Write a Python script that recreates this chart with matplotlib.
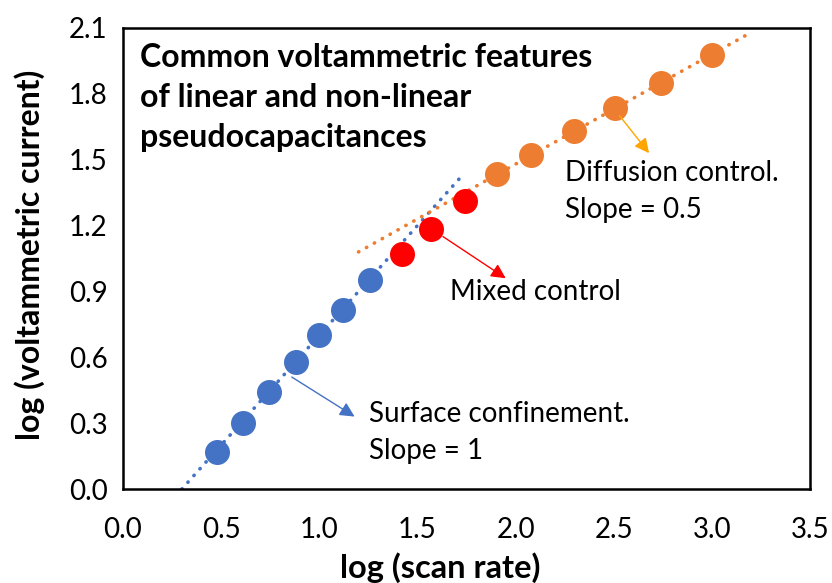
import numpy as np
import matplotlib
matplotlib.use("Agg")
import matplotlib.pyplot as plt
from matplotlib.ticker import FormatStrFormatter

plt.rcParams["font.family"] = ["Lato", "DejaVu Sans"]

# log(scan rate) vs log(current) for the three regimes
surf_x = [0.48, 0.61, 0.745, 0.88, 1.00, 1.12, 1.26]
surf_y = [0.17, 0.30, 0.44, 0.58, 0.70, 0.815, 0.95]
mixed_x = [1.42, 1.57, 1.74]
mixed_y = [1.07, 1.185, 1.31]
diff_x = [1.905, 2.08, 2.30, 2.505, 2.74, 3.00]
diff_y = [1.435, 1.52, 1.63, 1.735, 1.85, 1.975]

# fitted trend lines: (x range, slope, intercept)
surf_fit = ([0.30, 1.73], 1.0, -0.30)
diff_fit = ([1.20, 3.185], 0.5, 0.48)

BLUE, RED, ORANGE = "#4472C4", "#FF0000", "#ED7D31"

fig = plt.figure(figsize=(8.32, 5.83), dpi=100)
ax = fig.add_axes([0.1478, 0.1612, 0.8258, 0.7908])

for (xr, m, b), c in ((surf_fit, BLUE), (diff_fit, ORANGE)):
    xs = np.array(xr)
    ax.plot(xs, m * xs + b, color=c, lw=2.6, ls=(0, (0.1, 2.4)),
            dash_capstyle="round", zorder=2)

ms = 18
ax.plot(surf_x, surf_y, "o", color=BLUE, ms=ms, mec="none", zorder=3)
ax.plot(mixed_x, mixed_y, "o", color=RED, ms=ms, mec="none", zorder=3)
ax.plot(diff_x, diff_y, "o", color=ORANGE, ms=ms, mec="none", zorder=3)

ax.set_xlim(0, 3.5)
ax.set_ylim(0, 2.1)
ax.set_xticks(np.arange(0, 3.51, 0.5))
ax.set_yticks(np.arange(0, 2.11, 0.3))
ax.xaxis.set_major_formatter(FormatStrFormatter("%.1f"))
ax.yaxis.set_major_formatter(FormatStrFormatter("%.1f"))
ax.tick_params(length=0, labelsize=20)
ax.tick_params(axis="x", pad=20)
ax.tick_params(axis="y", pad=11)
for s in ax.spines.values():
    s.set_linewidth(1.8)
    s.set_color("black")

fig.text(0.529, 0.027, "log (scan rate)", fontsize=23.5, fontweight="bold",
         ha="center", va="center")
fig.text(0.036, 0.562, "log (voltammetric current)", fontsize=23, fontweight="bold",
         ha="center", va="center", rotation=90)

# multi-line texts are placed by the baseline of their last line
ax.text(0.0247, 1.558, "Common voltammetric features\nof linear and non-linear\npseudocapacitances",
        transform=ax.get_yaxis_transform(), ha="left", va="baseline", fontsize=23,
        fontweight="bold", linespacing=1.45)

def note(xy, xytext, color, lw):
    ax.annotate("", xy=xytext, xytext=xy,
                arrowprops=dict(arrowstyle="-|>", color=color, lw=lw,
                                mutation_scale=22, shrinkA=0, shrinkB=0))

note((0.86, 0.51), (1.18, 0.33), BLUE, 1.0)
note((1.63, 1.15), (1.95, 0.96), RED, 1.0)
note((2.53, 1.70), (2.68, 1.53), "#FFA500", 1.0)

ax.text(1.253, 0.137, "Surface confinement.\nSlope = 1", fontsize=20, ha="left", va="baseline",
        linespacing=1.5)
ax.text(1.666, 0.861, "Mixed control", fontsize=20, ha="left", va="baseline")
ax.text(2.252, 1.235, "Diffusion control.\nSlope = 0.5", fontsize=20, ha="left", va="baseline",
        linespacing=1.5)

fig.savefig("out.png", dpi=100)
